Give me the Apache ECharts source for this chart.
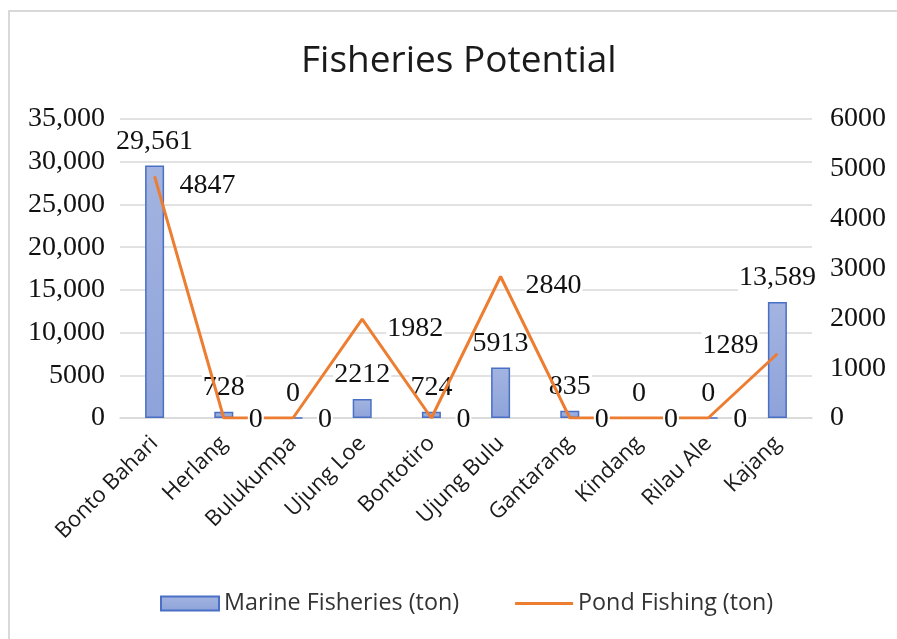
<!DOCTYPE html>
<html>
<head>
<meta charset="utf-8">
<script src="https://cdn.jsdelivr.net/npm/echarts@6/dist/echarts.min.js"></script>
<style>
html,body{margin:0;padding:0;background:#fff;}
#main{width:897px;height:639px;}
</style>
</head>
<body>
<div id="main"></div>
<script>
const categories = ['Bonto Bahari','Herlang','Bulukumpa','Ujung Loe','Bontotiro','Ujung Bulu','Gantarang','Kindang','Rilau Ale','Kajang'];
const marineFisheries = [29561, 728, 0, 2212, 724, 5913, 835, 0, 0, 13589];
const pondFishing = [4847, 0, 0, 1982, 0, 2840, 0, 0, 0, 1289];
const leftTicks = [0, 5000, 10000, 15000, 20000, 25000, 30000, 35000];
const rightTicks = [0, 1000, 2000, 3000, 4000, 5000, 6000];

const serif = '"Liberation Serif","DejaVu Serif",serif';
const sans = '"Open Sans","Noto Sans",sans-serif';

function fmtComma(v){
  return v >= 10000 ? v.toLocaleString('en-US') : String(v);
}

const lineIcon = 'path://M0,0L0.05,0L0.05,0.05Z M0,5.5H58V8.5H0Z M57.95,13.95L58,13.95L58,14Z';

const chart = echarts.init(document.getElementById('main'), null, {renderer:'canvas'});
chart.setOption({
  backgroundColor:'#fff',
  animation:false,
  graphic:[{
    type:'rect', shape:{x:9, y:11, width:1000, height:1000},
    style:{fill:'none', stroke:'#d9d9d9', lineWidth:2}, silent:true, z:-1
  }],
  title:{
    text:'Fisheries Potential', left:296, top:38,
    textStyle:{fontFamily:sans, fontSize:37, fontWeight:'normal', color:'#1a1a1a'}
  },
  legend:{
    bottom:19, left:155, itemWidth:58, itemHeight:14, itemGap:56,
    textStyle:{fontFamily:sans, fontSize:23.3, color:'#333'},
    data:[
      {name:'Marine Fisheries (ton)', icon:'rect'},
      {name:'Pond Fishing (ton)', icon:lineIcon, itemStyle:{color:'#ed7d31'}}
    ]
  },
  grid:{left:120, right:85, top:119, bottom:221, containLabel:false},
  xAxis:{
    type:'category', data:categories,
    axisLine:{show:true, lineStyle:{color:'#d9d9d9', width:1.5}},
    axisTick:{show:false},
    axisLabel:{rotate:45, margin:22, fontFamily:sans, fontSize:22, color:'#1a1a1a', interval:0}
  },
  yAxis:[
    {
      type:'value', min:0, max:35000, interval:5000, position:'left',
      axisLine:{show:false}, axisTick:{show:false},
      splitLine:{lineStyle:{color:'#d9d9d9', width:1.5}},
      axisLabel:{fontFamily:serif, fontSize:28, color:'#111', margin:15, formatter:fmtComma}
    },
    {
      type:'value', min:0, max:6000, interval:1000, position:'right',
      axisLine:{show:false}, axisTick:{show:false}, splitLine:{show:false},
      axisLabel:{fontFamily:serif, fontSize:28, color:'#111', margin:18, formatter:v=>String(v)}
    }
  ],
  series:[
    {
      name:'Marine Fisheries (ton)', type:'bar', yAxisIndex:0,
      data:marineFisheries, barWidth:19,
      itemStyle:{
        color:new echarts.graphic.LinearGradient(0,0,0,1,[{offset:0,color:'#a3b4e0'},{offset:1,color:'#8ea3da'}]),
        borderColor:'#4a6fc6', borderWidth:1.5
      },
      label:{
        show:true, position:'top', distance:10,
        fontFamily:serif, fontSize:28, color:'#111',
        backgroundColor:'#fff', padding:[0,1],
        formatter:p=>fmtComma(p.value)
      },
      z:2
    },
    {
      name:'Pond Fishing (ton)', type:'line', yAxisIndex:1,
      data:pondFishing,
      symbol:'none',
      lineStyle:{color:'#ed7d31', width:3},
      itemStyle:{color:'#ed7d31'},
      z:3
    },
    {
      name:'pondLabels', type:'scatter', yAxisIndex:1,
      data:pondFishing.map((v,i)=> {
        if (i===categories.length-1) return {value:v, label:{position:'left', distance:18, offset:[0,-8]}};
        return {value:v, label:{offset:[0, v===0 ? 2 : 9]}};
      }),
      symbolSize:0, silent:true,
      itemStyle:{color:'rgba(0,0,0,0)', opacity:1},
      label:{
        show:true, position:'right', distance:24,
        fontFamily:serif, fontSize:28, color:'#111', opacity:1,
        backgroundColor:'#fff', padding:[0,1]
      },
      z:4
    }
  ]
});
</script>
</body>
</html>
